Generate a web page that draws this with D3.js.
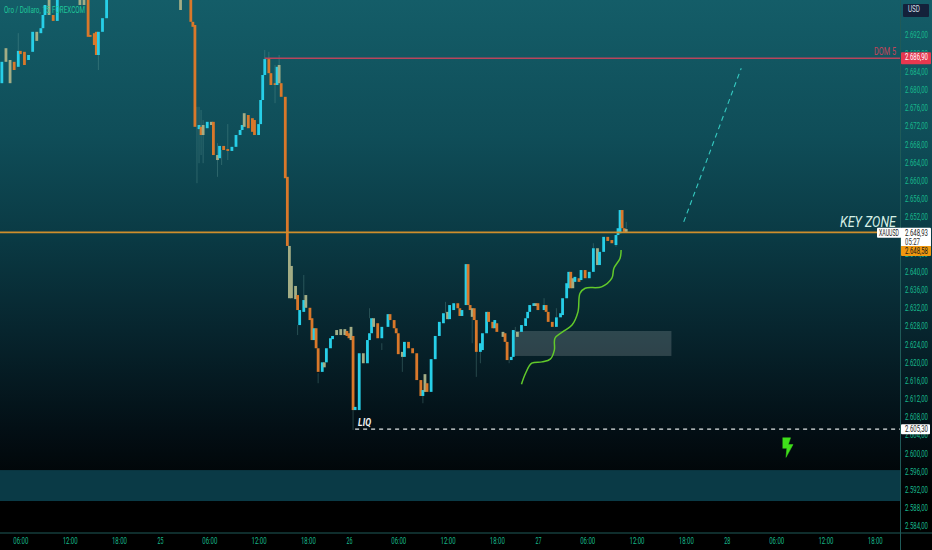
<!DOCTYPE html>
<html>
<head>
<meta charset="utf-8">
<title>XAUUSD</title>
<script src="https://cdn.jsdelivr.net/npm/d3@7"></script>
<style>
html, body { margin: 0; padding: 0; background: #000; overflow: hidden; }
svg { display: block; font-family: Roboto, sans-serif; }
.axis path, .axis line { display: none; }
.axis text { fill: #17b98c; font-size: 9px; font-family: Roboto, sans-serif; }
</style>
</head>
<body>
<svg id="chart" width="932" height="550"></svg>
<script>
'use strict';

// 15 minute bars, counted from 25 00:00. one entry per visible step of the chart
var bars = [-77,-75,-73,-71,-69,-68,-66,-64,-62,-60,-58,-57,-56,-54,-52,-50,-39,-37,-35,-34,-32,-31,-30,-28,-26,
	10,15,16,17,19,20,21,23,25,26,28,29,31,33,35,37,39,40,41,43,45,46,48,49,50,51,53,54,56,57,58,59,61,62,63,64,66,67,68,70,71,73,74,75,76,77,79,80,81,83,84,86,88,90,91,92,93,94,95,97,99,
	101,102,103,104,106,108,111,112,114,115,116,118,119,121,123,125,127,128,129,130,132,134,136,138,140,141,143,145,146,147,149,150,151,152,153,154,156,157,159,160,162,163,164,167,168,169,171,172,174,176,178,179,180,182,183,184,187,188,189,191,193,195,196,198,199,
	200,201,202,204,205,207,209,211,213,214,216,218,220,222,223,224,225,226,227];
var bodyTops = [2686.1,2689.1,2686.5,2686.1,2688.5,2688.5,2688.3,2687.6,2692.7,2692.7,2693.5,2696.4,2698.6,2700.8,2696.4,2700.4,2700.8,2700.4,2699.7,2692,2692.4,2692.7,2692.7,2695.7,2700.4,
	2700.8,2700.8,2694.9,2694.2,2672.2,2671.8,2672.2,2672.9,2672.9,2672.9,2665.6,2667.6,2667.6,2666.9,2667.4,2670,2671.1,2672.2,2674.8,2674.4,2673.7,2673.3,2672.4,2677.7,2683.2,2686.7,2686.7,2683.6,2681.4,2685,2685.4,2681.4,2678.4,2660.8,2645.6,2641.2,2636.8,2634.8,2631.5,2633.7,2634.8,2632,2629.7,2627.5,2627.5,2623.1,2620,2620,2623.1,2625.3,2625.8,2627.1,2627.3,2627.3,2626.9,2626.4,2627.8,2625.8,2610.2,2622,2622,
	2624.9,2626.4,2629.7,2629.7,2628.6,2627.8,2630.6,2630.6,2629.3,2627.5,2626.4,2622.3,2624.5,2624.5,2623.1,2622,2616.1,2613.9,2617.4,2615.4,2620.7,2625.8,2628.9,2630.8,2631.1,2632.6,2633,2633,2631.9,2631.5,2641.6,2641.6,2632.6,2631.9,2631.9,2629.3,2624.2,2626.4,2631.1,2631.1,2628.9,2629.3,2628.6,2626.7,2626.4,2624.5,2621.2,2627.1,2626.7,2628.2,2629.7,2631.1,2632.6,2633,2633,2633,2632.6,2632.6,2631.1,2628.9,2629.9,2630.8,2634.1,2637.4,2639.9,
	2639.9,2638.5,2638.8,2638.5,2640.3,2640.3,2639.9,2645.1,2645.1,2644.3,2647.6,2647.6,2646.9,2648,2649.5,2653.5,2653.5,2649.5,2649.3];
var bodyBottoms = [2681.4,2686.1,2681.4,2684.3,2685,2687.8,2685.4,2686.5,2688.3,2690.7,2692.4,2693.5,2696.4,2696.4,2695.1,2695.1,2698.6,2698.6,2691.6,2691.6,2689.8,2687.6,2687.6,2692.7,2695.7,
	2697.5,2694.9,2693.8,2671.8,2671.3,2670,2670,2671.5,2672.2,2665.6,2664.5,2664.9,2666.7,2666.5,2666.5,2667.4,2670,2671.1,2671.8,2671.5,2670.7,2670,2670,2672.4,2677.7,2683.2,2683.6,2681,2681,2681,2681.4,2678.4,2660.5,2645.6,2634.1,2634.1,2633.9,2631.5,2628.2,2631.1,2632,2629.3,2624.9,2624.9,2623.1,2617.9,2617.9,2618.9,2620,2623.1,2625.1,2626,2626,2626,2625.8,2625.3,2624.9,2609.5,2609.5,2609.5,2619.8,
	2619.8,2624.9,2626.4,2627.8,2625.3,2625.3,2627.8,2629.3,2627.5,2626.4,2621.8,2621.2,2621.2,2623.1,2622,2616.1,2612.6,2612.6,2613.5,2613.5,2613.5,2620.7,2625.8,2628.6,2629.5,2629.5,2631.5,2631.9,2630.2,2630.2,2632.6,2632.6,2631.5,2630,2629.3,2622.3,2622.3,2622.7,2626.4,2628.9,2627.5,2627.5,2626.7,2625.6,2624.5,2620.5,2620.5,2621.2,2625.6,2626.7,2628,2629.7,2631.1,2632.4,2632.4,2631.5,2631.5,2631.1,2628.9,2627.8,2627.8,2629.9,2630.4,2634.1,2636.3,
	2636.3,2636.3,2637.7,2637.7,2638.1,2638.5,2638.5,2639.9,2641.4,2641.4,2644.3,2646.7,2646.2,2645.8,2648,2648.4,2649.5,2648.7,2648.7];
// c up, o down, t the washed out bodies
var tones = ['c','t','t','o','c','o','o','c','c','t','c','c','c','t','o','c','t','t','o','o','o','o','c','c','c',
	't','o','o','o','c','o','t','c','t','o','t','c','o','o','c','c','c','c','t','o','o','o','c','c','c','c','o','o','o','c','t','o','o','o','t','t','t','o','c','c','t','o','o','c','o','o','c','t','c','c','c','t','t','t','o','o','t','o','c','c','t',
	'c','c','c','t','o','c','c','o','o','o','o','t','c','o','o','o','o','c','t','o','c','c','c','c','t','c','c','o','o','c','c','o','o','t','o','o','c','c','c','o','o','c','o','t','o','o','c','c','t','c','c','c','c','c','t','o','c','o','o','o','c','c','c','c','c',
	'o','t','c','o','c','o','c','c','t','c','c','o','o','c','c','c','o','o','t'];

// faint wicks, only where they stick out of the body
var wickBars = [-69,-30,18,19,20,21,28,30,33,51,53,56,58,63,67,70,77,94,102,108,118,128,139,152,154,156,170,173,187,193,211,222,227];
var wickHighs = [2692.4,2687.6,2676.2,2676.2,2675.5,2673.3,2668.2,2666.7,2672.4,2688.7,2688.3,2685.4,2687.6,2645.1,2628.2,2639.2,2617.6,2609.5,2631.9,2624.2,2621.2,2612.6,2633.3,2630,2622.3,2622.3,2620.5,2627.8,2634.1,2631.9,2646.2,2645.8,2650.9];
var wickLows = [2688.5,2684.3,2659.4,2663.8,2665.6,2663.8,2660.8,2663.4,2664.5,2686.5,2686.5,2677,2685.4,2640.9,2626,2633.7,2615.4,2605.1,2629.7,2622.7,2617.9,2611,2630.8,2624.2,2616.8,2619.8,2619.8,2626.7,2632.6,2629.9,2645.1,2645.4,2648.7];

var priceTicks = [2692,2688,2684,2680,2676,2672,2668,2664,2660,2656,2652,2648,2644,2640,2636,2632,2628,2624,2620,2616,2612,2608,2604,2600,2596,2592,2588,2584];
var timeTickBars = [-68,-44,-20,0,24,48,72,92,116,140,164,184,208,232,256,276,300,324,348];
var timeTickLabels = ['06:00','12:00','18:00','25','06:00','12:00','18:00','26','06:00','12:00','18:00','27','06:00','12:00','18:00','28','06:00','12:00','18:00'];

// drawings on the chart
var resistancePrice = 2686.9, resistanceStartBar = 51;
var keyZonePrice = 2648.58;
var lastPrice = 2648.93;
var liqPrice = 2605.3, liqStartBar = 95;
var forecastBars = [255,283], forecastPrices = [2650.9,2684.7];
var zoneBars = [172,249], zonePrices = [2626.9,2621.4];
var bandPrices = [2596.3,2589.5];
var curveBars = [176,178,181,186,190,192,192.3,196,200.6,203.5,204.5,207,215,220,221,224,224.5];
var curvePrices = [2615.2,2617.6,2619.8,2620.1,2620.7,2622.7,2625.3,2626.7,2628.2,2631.1,2635.2,2636.3,2636.6,2638.5,2640.7,2642.9,2644.7];
var boltBars = [303.1,307,305.9,308.2,304.8,305.2,303.1];
var boltPrices = [2603.4,2603.4,2601.9,2601.9,2599.1,2601.1,2601.1];

var width = 932, height = 550, plotRight = 900.5, plotBottom = 533;
var toneColors = { c: '#27cfe8', o: '#d9782a', t: '#a3ad85' };

var x = d3.scaleLinear().domain([-77.9, 360]).range([0, 899.4]);
var y = d3.scaleLinear().domain([2692, 2584]).range([35, 526]);
var priceText = function(value) {
	return d3.format(',.2f')(value).replace(',', '#').replace('.', ',').replace('#', '.');
};
// the chart's labels are much narrower than any installed face
var squeeze = function(selection, length) {
	selection.attr('textLength', length).attr('lengthAdjust', 'spacingAndGlyphs');
};

var svg = d3.select('#chart');

var gradient = svg.append('defs').append('linearGradient')
		.attr('id', 'bg')
		.attr('x1', 0).attr('y1', 0).attr('x2', 0).attr('y2', 1);
[[0, '#145d68'], [0.25, '#0f4d58'], [0.43, '#0a3a44'], [0.6, '#07252e'], [0.78, '#030f15'], [0.92, '#000000'], [1, '#000000']].forEach(function(stop) {
	gradient.append('stop').attr('offset', stop[0]).attr('stop-color', stop[1]);
});
svg.append('rect').attr('width', width).attr('height', height).attr('fill', 'url(#bg)');

var plot = svg.append('g');

plot.append('rect')
		.attr('x', 0)
		.attr('y', y(bandPrices[0]))
		.attr('width', plotRight)
		.attr('height', y(bandPrices[1]) - y(bandPrices[0]))
		.attr('fill', '#0a3a46');

plot.append('rect')
		.attr('x', x(zoneBars[0]))
		.attr('y', y(zonePrices[0]))
		.attr('width', x(zoneBars[1]) - x(zoneBars[0]))
		.attr('height', y(zonePrices[1]) - y(zonePrices[0]))
		.attr('fill', '#ffffff')
		.attr('opacity', 0.16);

plot.selectAll('line.wick')
		.data(wickBars)
		.enter()
		.append('line')
		.attr('class', 'wick')
		.attr('x1', function(value) { return x(value); })
		.attr('x2', function(value) { return x(value); })
		.attr('y1', function(value, index) { return y(wickHighs[index]); })
		.attr('y2', function(value, index) { return y(wickLows[index]); })
		.attr('stroke', '#6fa7a0')
		.attr('stroke-opacity', 0.4)
		.attr('stroke-width', 0.8);

plot.selectAll('rect.candle')
		.data(bars)
		.enter()
		.append('rect')
		.attr('class', 'candle')
		.attr('x', function(value) { return x(value) - 1.4; })
		.attr('y', function(value, index) { return y(bodyTops[index]); })
		.attr('width', 2.8)
		.attr('height', function(value, index) { return Math.max(1, y(bodyBottoms[index]) - y(bodyTops[index])); })
		.attr('fill', function(value, index) { return toneColors[tones[index]]; });

plot.append('line')
		.attr('x1', x(resistanceStartBar)).attr('x2', plotRight)
		.attr('y1', y(resistancePrice)).attr('y2', y(resistancePrice))
		.attr('stroke', '#b8455c').attr('stroke-width', 1.5);

plot.append('line')
		.attr('x1', 0).attr('x2', plotRight)
		.attr('y1', y(keyZonePrice)).attr('y2', y(keyZonePrice))
		.attr('stroke', '#cf8e2c').attr('stroke-width', 1.6);

plot.append('line')
		.attr('x1', x(liqStartBar)).attr('x2', plotRight)
		.attr('y1', y(liqPrice)).attr('y2', y(liqPrice))
		.attr('stroke', '#dfe3e3').attr('stroke-width', 1.3)
		.attr('stroke-dasharray', '4,4');

plot.append('line')
		.attr('x1', x(forecastBars[0])).attr('x2', x(forecastBars[1]))
		.attr('y1', y(forecastPrices[0])).attr('y2', y(forecastPrices[1]))
		.attr('stroke', '#35c9c0').attr('stroke-width', 1.1)
		.attr('stroke-dasharray', '5,4');

plot.append('path')
		.attr('d', d3.line()
				.x(function(value) { return x(value); })
				.y(function(value, index) { return y(curvePrices[index]); })
				.curve(d3.curveCatmullRom)(curveBars))
		.attr('fill', 'none')
		.attr('stroke', '#62c92b')
		.attr('stroke-width', 1.5);

plot.append('path')
		.attr('d', d3.line()
				.x(function(value) { return x(value); })
				.y(function(value, index) { return y(boltPrices[index]); })(boltBars))
		.attr('fill', '#3fe01a')
		.attr('stroke', '#3fe01a')
		.attr('stroke-width', 0.5);

plot.append('text')
		.attr('x', 4).attr('y', 13)
		.attr('fill', '#1fc79a')
		.attr('font-size', 9)
		.text('Oro / Dollaro, 15, FOREXCOM')
		.call(squeeze, 81);

plot.append('text')
		.attr('x', 874).attr('y', 55)
		.attr('fill', '#c2445a')
		.attr('font-size', 10.5)
		.text('DOM 5')
		.call(squeeze, 22);

plot.append('text')
		.attr('x', 840).attr('y', 227)
		.attr('fill', '#d6f0e6')
		.attr('font-size', 15)
		.attr('font-style', 'italic')
		.text('KEY ZONE')
		.call(squeeze, 56);

plot.append('text')
		.attr('x', x(liqStartBar) + 3).attr('y', 426)
		.attr('fill', '#f2f2f2')
		.attr('font-size', 10.5)
		.attr('font-weight', 'bold')
		.attr('font-style', 'italic')
		.text('LIQ')
		.call(squeeze, 13);

// axes
svg.append('line')
		.attr('x1', plotRight).attr('x2', plotRight)
		.attr('y1', 0).attr('y2', height)
		.attr('stroke', '#1f5a58');
svg.append('line')
		.attr('x1', 0).attr('x2', width)
		.attr('y1', plotBottom).attr('y2', plotBottom)
		.attr('stroke', '#1f5a58');

svg.append('g')
		.attr('class', 'axis')
		.attr('transform', 'translate(' + plotRight + ',0)')
		.call(d3.axisRight(y).tickValues(priceTicks).tickSize(0).tickPadding(4.5).tickFormat(priceText))
		.selectAll('text')
		.call(squeeze, 23);

svg.append('g')
		.attr('class', 'axis')
		.attr('transform', 'translate(0,' + plotBottom + ')')
		.call(d3.axisBottom(x).tickValues(timeTickBars).tickSize(0).tickPadding(5)
				.tickFormat(function(value, index) { return timeTickLabels[index]; }))
		.selectAll('text')
		.each(function() {
			d3.select(this).call(squeeze, this.textContent.length > 2 ? 15 : 6);
		});

// price tags on the right
function tag(left, top, w, h, fill, color, label, textX, textW) {
	svg.append('rect')
			.attr('x', left).attr('y', top)
			.attr('width', w).attr('height', h)
			.attr('rx', 1)
			.attr('fill', fill);
	svg.append('text')
			.attr('x', textX)
			.attr('y', top + 8)
			.attr('fill', color)
			.attr('font-size', 9)
			.text(label)
			.call(squeeze, textW);
}

tag(901, y(resistancePrice) - 6, 30, 12, '#e8384f', '#ffffff', priceText(resistancePrice), 905, 23);
tag(877, y(lastPrice) - 3, 25, 10, '#ffffff', '#1a1a1a', 'XAUUSD', 879, 20);
tag(901, y(lastPrice) - 3, 30, 19, '#ffffff', '#1a1a1a', priceText(lastPrice), 905, 23);
svg.append('text').attr('x', 905).attr('y', y(lastPrice) + 14).attr('fill', '#333333').attr('font-size', 9).text('05:27').call(squeeze, 15);
tag(901, y(keyZonePrice) + 13.5, 30, 10, '#f0980f', '#1a1a1a', priceText(keyZonePrice), 905, 23);
tag(901, y(liqPrice) - 5, 29, 10, '#ffffff', '#1a1a1a', priceText(liqPrice), 905, 23);
tag(903, 4, 26, 13, '#14213a', '#d5dce3', 'USD', 908, 12);
</script>
</body>
</html>
